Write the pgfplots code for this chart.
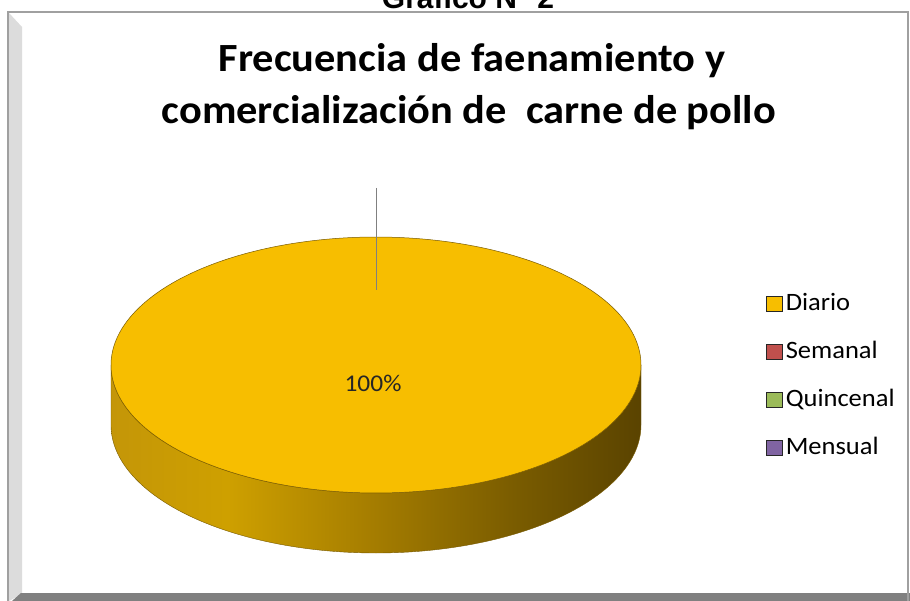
\documentclass[border=0pt]{standalone}
\usepackage{fontspec}
\setmainfont{Carlito}[FakeStretch=1.06]
\newfontfamily\headfont{Liberation Sans}
\usepackage{pgfplots}
\usepackage{pgfplotstable}
\pgfplotsset{compat=1.18}

\definecolor{gold}{RGB}{247,190,0}
\definecolor{goldedge}{RGB}{120,90,0}
\definecolor{sideL}{RGB}{196,150,8}
\definecolor{sideH}{RGB}{206,160,0}
\definecolor{sideM}{RGB}{164,124,0}
\definecolor{sideQ}{RGB}{122,92,0}
\definecolor{sideD}{RGB}{90,67,0}
\definecolor{semanal}{RGB}{192,80,77}
\definecolor{quincenal}{RGB}{155,187,89}
\definecolor{mensual}{RGB}{128,100,162}
\definecolor{framegray}{RGB}{160,160,160}
\definecolor{bevellight}{RGB}{220,220,220}
\definecolor{beveldark}{RGB}{128,128,128}

\pgfdeclarehorizontalshading{pieside}{100bp}{color(0bp)=(sideL); color(25bp)=(sideL); color(36bp)=(sideH); color(50bp)=(sideM); color(63bp)=(sideQ); color(75bp)=(sideD); color(100bp)=(sideD)}

\pgfplotstableread{
category value
Diario 100
Semanal 0
Quincenal 0
Mensual 0
}\piedata
\pgfplotstablegetelem{0}{value}\of\piedata
\let\diario\pgfplotsretval

\begin{document}
\begin{tikzpicture}
\clip (0,0) rectangle (910pt,601pt);
\begin{axis}[
  at={(0,0)}, anchor=south west,
  scale only axis, width=910pt, height=601pt,
  xmin=0, xmax=910, ymin=0, ymax=601, y dir=reverse,
  hide axis, clip=false,
  legend style={at={(0.838,0.516)}, anchor=north west, draw=none, fill=none,
    font=\fontsize{25}{29}\selectfont, row sep=26pt,
    nodes={text height=17pt, text depth=5pt, inner sep=0pt, inner xsep=3pt}},
  legend cell align=left,
  legend image code/.code={\draw[#1, draw=black!85, line width=1pt] (0pt,-7.5pt) rectangle (16pt,7.5pt);},
]
% frame
\fill[white] (axis cs:8,12) rectangle (axis cs:908,601);
\fill[bevellight] (axis cs:9,13) -- (axis cs:22,27) -- (axis cs:22,594) -- (axis cs:9,601) -- cycle;
\fill[beveldark] (axis cs:12,601) -- (axis cs:21,593) -- (axis cs:910,593) -- (axis cs:910,601) -- cycle;
\draw[framegray, line width=1.6pt] (axis cs:8,601) -- (axis cs:8,12) -- (axis cs:908,12) -- (axis cs:908,601);
% header
\node[anchor=base, font=\headfont\bfseries\fontsize{30}{34}\selectfont] at (axis cs:468,9) {Gráfico N° 2};
% title
\node[anchor=base, font=\bfseries\fontsize{40}{48}\selectfont] at (axis cs:472,72) {Frecuencia de faenamiento y};
\node[anchor=base, font=\bfseries\fontsize{40}{48}\selectfont] at (axis cs:469,124) {comercialización de\ \ carne de pollo};
% pie side (visible front half)
\addplot[draw=goldedge, line width=0.4pt, shading=pieside, domain=0:360, samples=361, variable=\t, forget plot]
  ({376+265*cos(t)}, {365+128*abs(sin(t))+60*(t>180)}) -- cycle;
% pie top (Diario slice)
\addplot[fill=gold, draw=goldedge, line width=0.5pt, domain=0:{3.6*\diario}, samples=240, variable=\t]
  ({376+265*cos(t)}, {365+128*sin(t)}) -- cycle;
\addlegendentry{Diario}
\addlegendimage{fill=semanal}\addlegendentry{Semanal}
\addlegendimage{fill=quincenal}\addlegendentry{Quincenal}
\addlegendimage{fill=mensual}\addlegendentry{Mensual}
% leader line
\addplot[gray, line width=0.8pt, forget plot] coordinates {(376,188) (376,290)};
% data label
\node[font=\fontsize{24}{28}\selectfont, text=black!85] at (axis cs:373,383) {100\%};
\end{axis}
\end{tikzpicture}
\end{document}
